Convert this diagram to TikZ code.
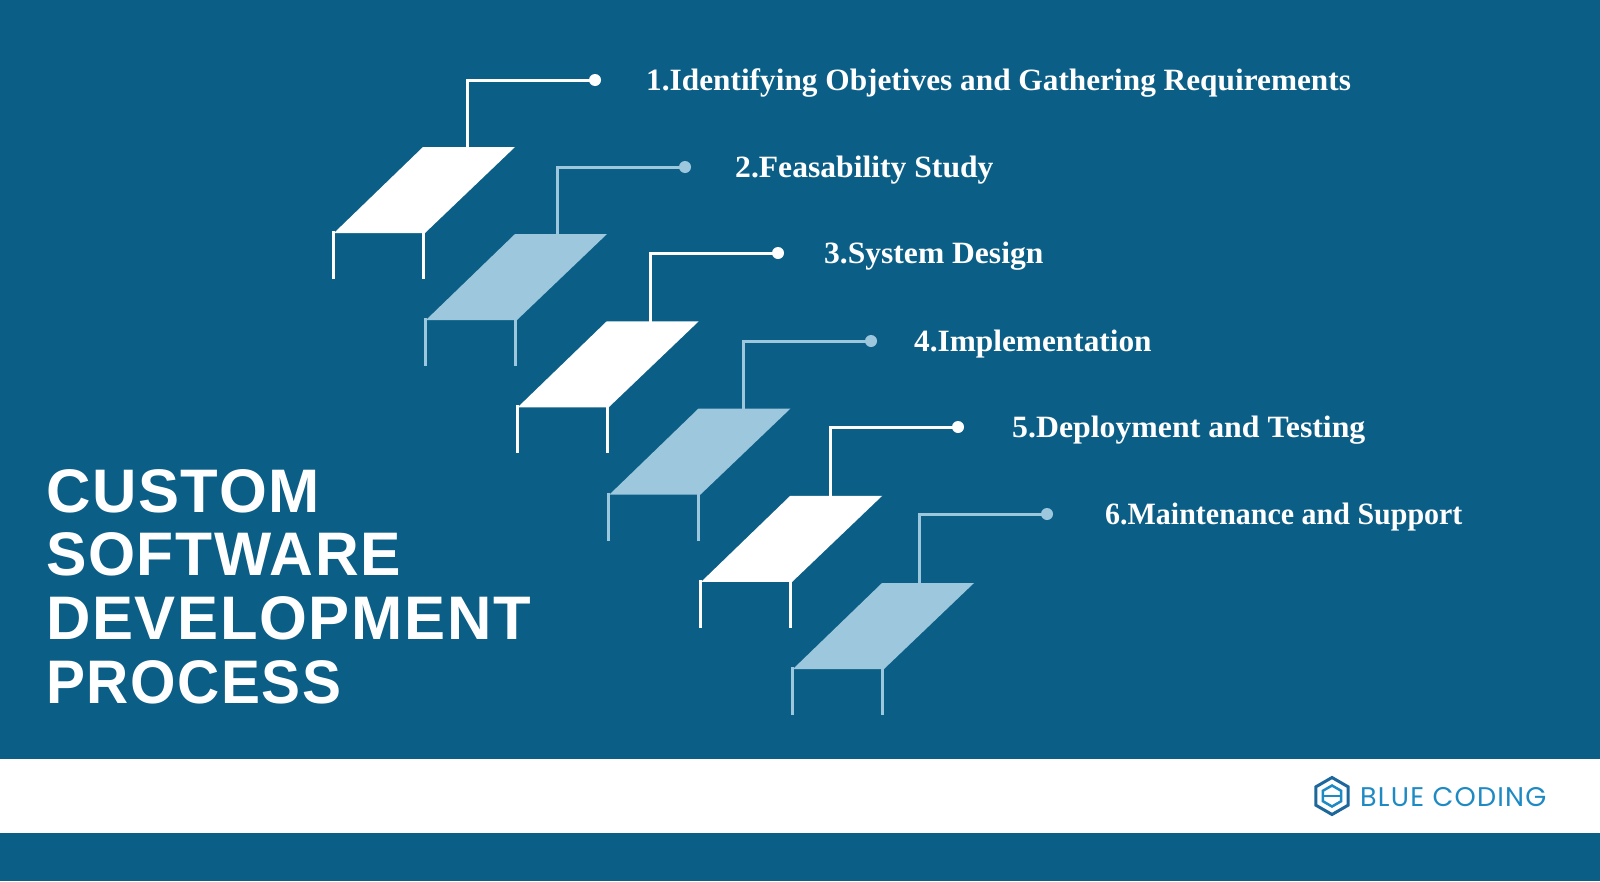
\documentclass[tikz,border=0pt]{standalone}
\usepackage{fontspec}
\setmainfont{Liberation Serif}
\newfontfamily\titlefont[LetterSpace=2.7]{Liberation Sans}
\newfontfamily\logofont[LetterSpace=4.5]{Poppins}
\definecolor{bg}{HTML}{0B5F87}
\definecolor{lightstep}{HTML}{9DC7DD}
\definecolor{logoblue}{HTML}{1E8AC4}
\definecolor{logodark}{HTML}{1D679C}
\tikzset{
  titletext/.style={text=white, inner sep=0pt, anchor=base west,
    font=\titlefont\fontsize{61.5}{64}\selectfont\bfseries},
  steplabel/.style={text=white, inner sep=0pt, anchor=base west,
    font=\fontsize{31}{36}\selectfont\bfseries},
  stepdot/.style={circle, inner sep=0pt, minimum size=12pt},
  conn/.style={line width=3pt},
  leg/.style={line width=3pt},
}
\begin{document}
\begin{tikzpicture}[x=1pt,y=-1pt]
\useasboundingbox (0,0) rectangle (1600,881);
\fill[bg] (0,0) rectangle (1600,881);
\fill[white] (0,759) rectangle (1600,833);

\foreach \i/\cx/\ty/\col/\lx/\sc/\txt in {
  0/467/80/white/646/1.01/{1.Identifying Objetives and Gathering Requirements},
  1/557/167/lightstep/735/1.02/{2.Feasability Study},
  2/650/253/white/824/1.018/{3.System Design},
  3/743/341/lightstep/914/1.01/{4.Implementation},
  4/830/427/white/1012/1.026/{5.Deployment and Testing},
  5/919/514/lightstep/1105/0.967/{6.Maintenance and Support}}{
  \pgfmathsetmacro\tlx{423+91.8*\i}
  \pgfmathsetmacro\tly{147+87.2*\i}
  \pgfmathsetmacro\ly{\ty+10.5}
  \pgfmathsetmacro\dx{\cx+128}
  % step plate
  \fill[\col] (\tlx,\tly) -- ++(92,0) -- ++(-90,86) -- ++(-91,0) -- cycle;
  % legs
  \draw[leg,\col] (\tlx-89.5,\tly+84) -- ++(0,48);
  \draw[leg,\col] (\tlx+0.5,\tly+84) -- ++(0,48);
  % connector
  \coordinate (s\i) at (\cx,\tly+1);
  \node[stepdot, fill=\col] (d\i) at (\dx,\ty) {};
  \draw[conn,\col] (s\i) |- (d\i.center);
  \node[steplabel, xscale=\sc] (l\i) at (\lx,\ly) {\txt};
}

\node[titletext] (t1) at (46,512) {CUSTOM};
\node[titletext, xscale=0.985] (t2) at (46,575) {SOFTWARE};
\node[titletext] (t3) at (46,639) {DEVELOPMENT};
\node[titletext, xscale=0.95] (t4) at (46,703) {PROCESS};

% logo
\draw[logodark, line width=3pt, line join=miter]
  (1332,796) ++(90:18.5) -- ++(210:18.5) -- ++(270:18.5) -- ++(330:18.5) -- ++(30:18.5) -- ++(90:18.5) -- cycle;
\draw[logoblue, line width=2.5pt, line join=miter]
  (1332,796) ++(90:10.5) -- ++(210:10.5) -- ++(270:10.5) -- ++(330:10.5) -- ++(30:10.5) -- ++(90:10.5) -- cycle;
\draw[logoblue, line width=2pt] (1323.5,796) -- (1340.5,796);
\node[inner sep=0pt, anchor=base west, text=logoblue,
  font=\logofont\fontsize{27}{30}\selectfont] (logo) at (1360,806) {BLUE CODING};
\end{tikzpicture}
\end{document}
